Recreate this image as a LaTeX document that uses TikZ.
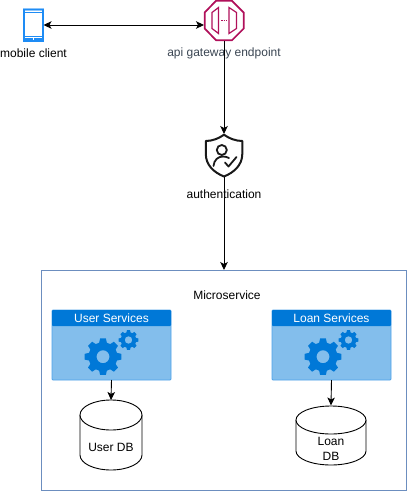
\documentclass[tikz,border=0pt]{standalone}
\usepackage{fontspec}
\setmainfont{Liberation Sans}
\usetikzlibrary{arrows.meta}
\definecolor{framec}{HTML}{6C8EBF}
\definecolor{headc}{HTML}{0078D7}
\definecolor{bodyc}{HTML}{83BEEC}
\definecolor{edgec}{HTML}{4FA3EA}
\definecolor{gwc}{HTML}{B0105A}
\definecolor{phonec}{HTML}{1E8CF5}
\definecolor{phonee}{HTML}{8CC4FA}
\definecolor{gwtext}{HTML}{3A4552}
\tikzset{
  x=1pt,y=-1pt,
  lbl/.style={font=\fontsize{12}{15}\selectfont,inner sep=0pt,align=center,text=black},
  hdr/.style={font=\fontsize{12}{14}\selectfont,inner sep=0pt,text=white},
  conn/.style={line width=0.9pt,-{Stealth[length=8pt,width=7.5pt,inset=2pt]}},
  dconn/.style={line width=0.9pt,{Stealth[length=8pt,width=7.5pt,inset=2pt]}-{Stealth[length=8pt,width=7.5pt,inset=2pt]}},
  dbline/.style={line width=0.9pt,draw=black,fill=white},
  card/.style={minimum width=119pt,minimum height=70pt,inner sep=0pt,outer sep=0pt},
  anchorbox/.style={inner sep=0pt,outer sep=0pt},
}
\newcommand{\drawgear}[6]{% cx cy outer inner teeth hole
  \pgfmathsetmacro{\gstep}{360/#5}
  \path[fill=headc,even odd rule]
    ({#1+#3*cos(-0.2*\gstep)},{#2+#3*sin(-0.2*\gstep)})
    \foreach \k in {1,...,#5}{
      -- ({#1+#3*cos((\k-1-0.2)*\gstep)},{#2+#3*sin((\k-1-0.2)*\gstep)})
      -- ({#1+#3*cos((\k-1+0.2)*\gstep)},{#2+#3*sin((\k-1+0.2)*\gstep)})
      -- ({#1+#4*cos((\k-1+0.34)*\gstep)},{#2+#4*sin((\k-1+0.34)*\gstep)})
      -- ({#1+#4*cos((\k-1+0.66)*\gstep)},{#2+#4*sin((\k-1+0.66)*\gstep)})
    } -- cycle
    (#1,#2) circle[radius=#6];
}
\begin{document}
\begin{tikzpicture}
\useasboundingbox (0,0) rectangle (407,491);
% frame
\node[draw=framec,line width=0.8pt,fill=white,minimum width=365pt,minimum height=220pt,anchorbox] (frame) at (223.5,380) {};
% mobile
\node[anchorbox,minimum width=20pt,minimum height=32pt] (mobile) at (33.5,25) {};
\draw[phonee,line width=2.4pt] (24,9.5) rectangle (43,41);
\draw[phonec,line width=1.6pt] (24,9.5) rectangle (43,41);
\draw[phonec,line width=1.1pt] (24,12.5) -- (43,12.5);
\draw[phonec,line width=1.1pt] (24,36.5) -- (43,36.5);
\fill[phonec] (24,38.4) rectangle (43,39.6);
\fill[white] (33,37.2) rectangle (34,40);
% gateway
\node[anchorbox,minimum width=40pt,minimum height=41pt] (gw) at (224,20.5) {};
\draw[gwc,line width=1.7pt,line join=miter,fill=white]
  (216,0.8) -- (232,0.8) -- (243.7,12.5) -- (243.7,28.5) -- (232,40.2) -- (216,40.2) -- (204.7,28.5) -- (204.7,12.5) -- cycle;
\draw[gwc,line width=1.2pt] (218.5,7.5) -- (218.5,33.5) -- (212,28.5) -- (212,12.5) -- cycle;
\draw[gwc,line width=1.2pt] (229,7.5) -- (229,33.5) -- (236.5,28.5) -- (236.5,12.5) -- cycle;
\draw[gwc,line width=1pt,dash pattern=on 1.5pt off 1pt] (221,20.5) -- (227,20.5);
% shield
\node[anchorbox,minimum width=38pt,minimum height=43pt] (auth) at (224,155.5) {};
\draw[black!90,line width=2pt,line join=round]
  (224,134.7) .. controls (219,138.5) and (212,141) .. (205.8,141)
  -- (205.8,154) .. controls (205.8,165) and (214,172.5) .. (224,176.5)
  .. controls (234,172.5) and (242.3,165) .. (242.3,154)
  -- (242.3,141) .. controls (236,141) and (229,138.5) .. (224,134.7) -- cycle;
\draw[black!90,line width=1.8pt] (221.8,150) circle[radius=5];
\draw[black!90,line width=1.8pt,line cap=round] (213.5,166) .. controls (214,160) and (218,156.5) .. (223,156.5) .. controls (225,156.5) and (227,157) .. (229,158);
\draw[black!90,line width=1.8pt,line cap=round,line join=round] (225,162.5) -- (228.5,166.5) -- (236.5,157);
% labels
\node[lbl] (lm) at (33.5,53.5) {mobile client};
\node[lbl,text=gwtext] (lg) at (224,53.5) {api gateway endpoint};
\node[lbl] (la) at (224,194) {authentication};
\node[lbl] (lf) at (227,295) {Microservice};
% cards
\node[card,draw=edgec,line width=0.8pt,fill=bodyc,rounded corners=1pt] (us) at (111.5,345) {};
\fill[headc,rounded corners=1pt] (52,310) rectangle (171,326);
\node[hdr] (ush) at (111.5,318) {User Services};
\drawgear{103}{356.7}{18.5}{14.5}{8}{6.5}
\drawgear{128.5}{340}{10}{7.8}{8}{3.8}
\node[card,draw=edgec,line width=0.8pt,fill=bodyc,rounded corners=1pt] (ls) at (331.5,345) {};
\fill[headc,rounded corners=1pt] (272,310) rectangle (391,326);
\node[hdr] (lsh) at (331.5,318) {Loan Services};
\drawgear{323}{356.7}{18.5}{14.5}{8}{6.5}
\drawgear{348.5}{340}{10}{7.8}{8}{3.8}
% user db
\node[minimum width=62pt,minimum height=70pt,anchorbox] (udb) at (111,435) {};
\draw[dbline] (80,415) -- (80,455) arc[start angle=180,end angle=360,x radius=31,y radius=-15] -- (142,415);
\draw[dbline] (111,415) ellipse[x radius=31,y radius=15];
\node[lbl] (udbl) at (111,447) {User DB};
% loan db
\node[minimum width=70pt,minimum height=60pt,anchorbox] (ldb) at (331,435.5) {};
\draw[dbline] (296,420) -- (296,451) arc[start angle=180,end angle=360,x radius=35,y radius=-14] -- (366,420);
\draw[dbline] (331,420) ellipse[x radius=35,y radius=14];
\node[lbl] (ldbl) at (331,448.5) {Loan\\[0pt]DB};
% connectors
\draw[dconn] (mobile.east) -- (mobile.east -| gw.west);
\draw[conn] (gw.south) -- (auth.north);
\draw[conn] (auth.south) -- (frame.north -| auth.south);
\draw[conn] (us.south) -- (udb.north);
\draw[conn] (ls.south) -- (ldb.north);
\end{tikzpicture}
\end{document}
